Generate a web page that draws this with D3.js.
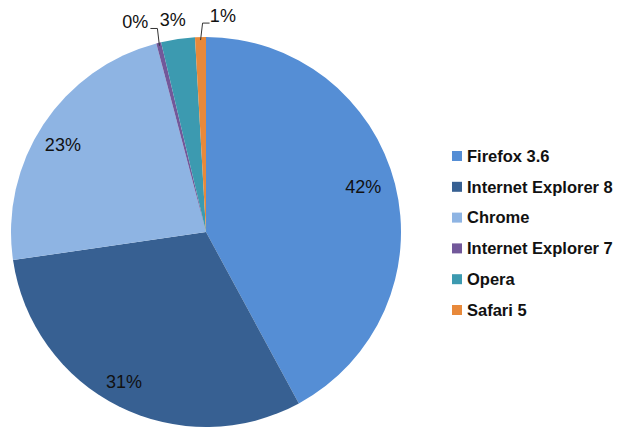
<!DOCTYPE html>
<html>
<head>
<meta charset="utf-8">
<title>browser share pie</title>
<script src="https://d3js.org/d3.v7.min.js"></script>
<style>
  body { margin: 0; background: #fff; }
  svg { display: block; }
</style>
</head>
<body>
<script>
// browser share
var browsers = ["Firefox 3.6", "Internet Explorer 8", "Chrome", "Internet Explorer 7", "Opera", "Safari 5"];
var shares = [42.1, 30.6, 23.2, 0.4, 2.8, 0.9];
var colors = ["#558ED5", "#376092", "#8EB4E3", "#72589A", "#3C9AB0", "#E8893A"];

var width = 623, height = 427;
var cx = 206, cy = 232, radius = 195;

var svg = d3.select("body").append("svg")
    .attr("width", width).attr("height", height);

var pie = d3.pie().sort(null).value(function (d) { return d; });
var arc = d3.arc().innerRadius(0).outerRadius(radius);
var arcs = pie(shares);

var g = svg.append("g").attr("transform", "translate(" + cx + "," + cy + ")");

g.selectAll("path")
    .data(arcs)
    .enter().append("path")
    .attr("d", arc)
    .attr("fill", function (d, i) { return colors[i]; });

// label positions: big slices inside, tiny ones pushed outside the edge
var inner = d3.arc().innerRadius(radius * 0.8).outerRadius(radius * 0.8);
var outer = d3.arc().innerRadius(radius + 22).outerRadius(radius + 22);
var labelShift = [[6, -7], [-12, 10], [-13, -1], [-18, 0], [-2, 2], [23, 1]];

function labelPos(d, i) {
    var small = (d.endAngle - d.startAngle) < 0.25;
    var p = small ? outer.centroid(d) : inner.centroid(d);
    return [p[0] + labelShift[i][0], p[1] + labelShift[i][1]];
}

g.selectAll("text.pct")
    .data(arcs)
    .enter().append("text")
    .attr("class", "pct")
    .attr("transform", function (d, i) { return "translate(" + labelPos(d, i) + ")"; })
    .attr("text-anchor", "middle")
    .attr("dy", "0.35em")
    .attr("font-family", "Liberation Sans, Arial, sans-serif")
    .attr("font-size", "18px")
    .attr("fill", "#111")
    .text(function (d) { return Math.round(d.value) + "%"; });

// leader lines for the two thinnest slices
var edge = d3.arc().innerRadius(radius - 3).outerRadius(radius - 3);
[3, 5].forEach(function (i) {
    var d = arcs[i];
    var e = edge.centroid(d);
    var p = labelPos(d, i);
    var side = i == 3 ? 1 : -1;
    var knee = [e[0] - 2 * side, p[1] + 7];
    var end = [knee[0] - 7 * side, knee[1]];
    g.append("polyline")
        .attr("points", [e, knee, end].map(function (q) { return q.join(","); }).join(" "))
        .attr("fill", "none")
        .attr("stroke", "#333")
        .attr("stroke-width", 1);
});

// legend
var legend = svg.append("g").attr("transform", "translate(452,156)");
var rows = legend.selectAll("g")
    .data(browsers)
    .enter().append("g")
    .attr("transform", function (d, i) { return "translate(0," + (i * 30.8) + ")"; });

rows.append("rect")
    .attr("x", 0).attr("y", -5)
    .attr("width", 10).attr("height", 10)
    .attr("fill", function (d, i) { return colors[i]; });

rows.append("text")
    .attr("x", 15)
    .attr("dy", "0.35em")
    .attr("font-family", "Liberation Sans, Arial, sans-serif")
    .attr("font-weight", "bold")
    .attr("font-size", "16.5px")
    .attr("fill", "#111")
    .text(function (d) { return d; });
</script>
</body>
</html>
